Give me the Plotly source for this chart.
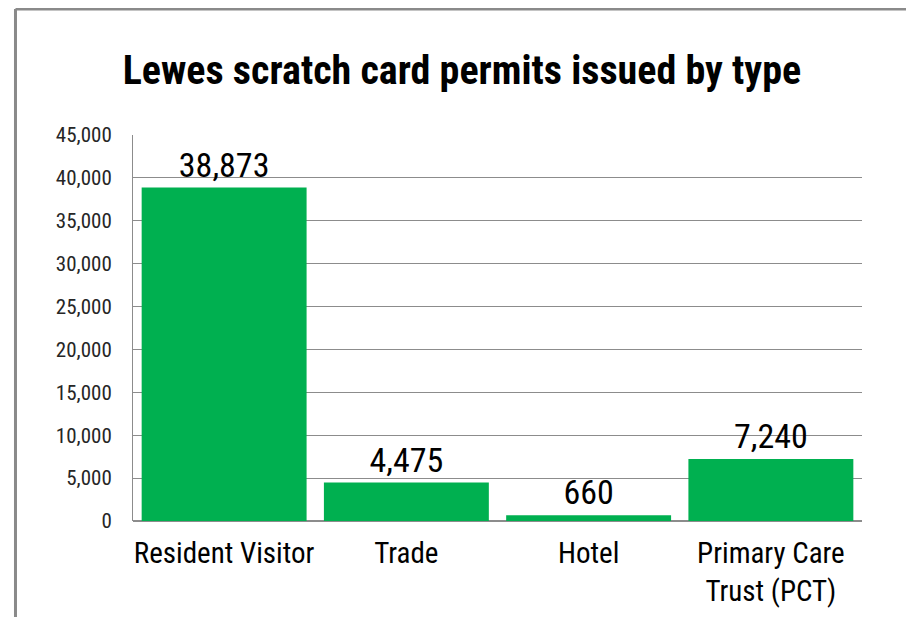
import plotly.graph_objects as go

categories = ["Resident Visitor", "Trade", "Hotel", "Primary Care<br>Trust (PCT)"]
permits = [38873, 4475, 660, 7240]
tick_vals = [0, 5000, 10000, 15000, 20000, 25000, 30000, 35000, 40000, 45000]

GREEN = "#00B050"
GRID = "#8c8c8c"
NARROW = "Roboto Condensed, Liberation Sans Narrow, DejaVu Sans Condensed, sans-serif"

fig = go.Figure(
    go.Bar(
        x=categories,
        y=permits,
        marker=dict(color=GREEN, line=dict(width=0)),
        text=[f"{v:,}" for v in permits],
        textposition="outside",
        textfont=dict(family=NARROW, size=34, color="black"),
        cliponaxis=False,
    )
)

# page body adds 8px, so the figure is 8px smaller than the window
fig.update_layout(
    width=906,
    height=609,
    margin=dict(l=125, r=52, t=127, b=96, autoexpand=False),
    paper_bgcolor="white",
    plot_bgcolor="white",
    bargap=0.095,
    showlegend=False,
    title=dict(
        text="<b>Lewes scratch card permits issued by type</b>",
        x=0.501,
        xanchor="center",
        y=0.898,
        yanchor="middle",
        font=dict(family=NARROW, size=40, color="black"),
    ),
    xaxis=dict(
        automargin=False,
        showgrid=False,
        showline=False,
        ticks="",
        ticklabelstandoff=12,
        tickfont=dict(family=NARROW, size=29, color="black"),
    ),
    yaxis=dict(
        automargin=False,
        range=[0, 45000],
        tickvals=tick_vals,
        tickformat=",",
        showgrid=True,
        gridcolor=GRID,
        gridwidth=1,
        showline=True,
        linecolor=GRID,
        linewidth=1,
        zeroline=True,
        zerolinecolor=GRID,
        zerolinewidth=2,
        ticks="",
        ticklabelstandoff=16,
        tickfont=dict(family=NARROW, size=21, color="#262626"),
    ),
)

# outer frame (top and left edges of the original slide)
fig.add_shape(type="line", xref="paper", yref="paper", x0=-0.1612, x1=1.1, y0=1.3264, y1=1.3264,
              line=dict(color="#8a8a8a", width=3))
fig.add_shape(type="line", xref="paper", yref="paper", x0=-0.1612, x1=-0.1612, y0=1.3264, y1=-0.3,
              line=dict(color="#8a8a8a", width=3))

fig.write_html("out.html")
